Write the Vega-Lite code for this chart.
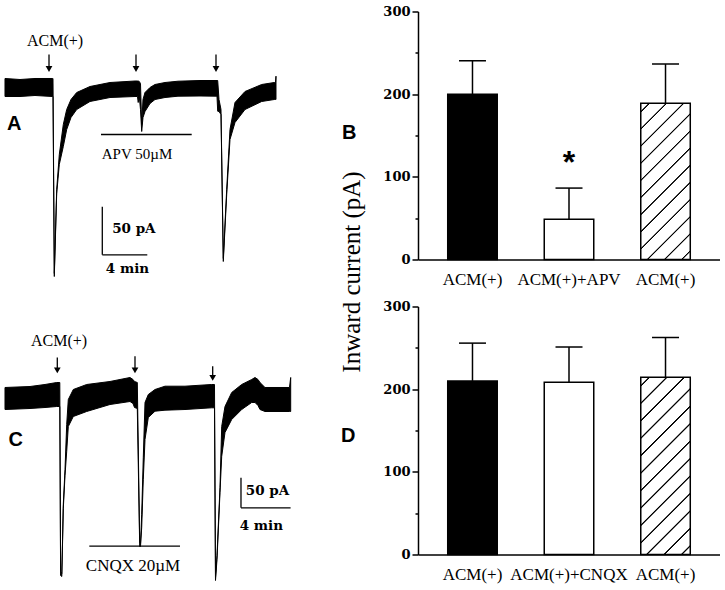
{
"$schema":"https://vega.github.io/schema/vega-lite/v6.json",
"background":"white",
"padding":{"left":0,"top":5.5,"right":0,"bottom":0},
"config":{"view":{"stroke":null,"fill":"white"},"axis":{"labelColor":"black","titleColor":"black","domainColor":"black","tickColor":"black","grid":false}},
"datasets":{
"traceA":[
{"t":0.444,"v":9.38,"v2":-9.38},{"t":1.778,"v":8.33,"v2":-9.38},{"t":3.111,"v":9.38,"v2":-8.33},{"t":4.667,"v":9.38,"v2":-9.38},{"t":4.711,"v":9.38,"v2":-9.38},
{"t":4.827,"v":-193.75,"v2":-196.88},{"t":5.04,"v":-106.25,"v2":-110.42},{"t":5.271,"v":-69.79,"v2":-80.21},{"t":5.627,"v":-38.54,"v2":-61.46},{"t":5.929,"v":-22.92,"v2":-43.75},
{"t":6.311,"v":-12.5,"v2":-31.25},{"t":6.818,"v":-5.21,"v2":-22.92},{"t":8.0,"v":1.04,"v2":-14.58},{"t":9.778,"v":5.21,"v2":-10.42},{"t":12.0,"v":6.77,"v2":-9.38},
{"t":12.222,"v":6.77,"v2":-9.38},{"t":12.284,"v":6.77,"v2":-15.63},{"t":12.382,"v":6.25,"v2":-9.38},{"t":12.489,"v":4.17,"v2":-22.92},{"t":12.596,"v":-38.54,"v2":-45.83},
{"t":12.711,"v":-12.5,"v2":-31.25},{"t":12.889,"v":-5.21,"v2":-25.0},{"t":13.333,"v":0,"v2":-16.67},{"t":13.778,"v":3.13,"v2":-12.5},{"t":14.667,"v":5.21,"v2":-10.42},
{"t":15.822,"v":6.56,"v2":-9.06},{"t":17.778,"v":7.29,"v2":-8.85},{"t":19.289,"v":7.29,"v2":-9.06},{"t":19.351,"v":7.29,"v2":-24.69},{"t":19.467,"v":-12.5,"v2":-25.0},
{"t":19.644,"v":-22.92,"v2":-28.13},{"t":19.849,"v":-178.13,"v2":-181.25},{"t":20.151,"v":-106.25,"v2":-111.46},{"t":20.444,"v":-43.75,"v2":-54.17},{"t":20.889,"v":-15.63,"v2":-36.46},
{"t":21.778,"v":-4.17,"v2":-22.92},{"t":23.262,"v":3.13,"v2":-14.58},{"t":24.382,"v":5.21,"v2":-12.5},{"t":24.489,"v":5.21,"v2":-12.5},{"t":24.533,"v":11.77,"v2":-12.5}
],
"traceC":[
{"t":0.403,"v":16.67,"v2":-20.0},{"t":2.419,"v":18.33,"v2":-18.33},{"t":3.629,"v":21.67,"v2":-16.67},{"t":4.573,"v":25.0,"v2":-15.0},{"t":4.823,"v":25.0,"v2":-15.0},
{"t":4.887,"v":-290.0,"v2":-296.67},{"t":4.984,"v":-293.33,"v2":-298.33},{"t":5.105,"v":-178.33,"v2":-185.0},{"t":5.242,"v":-120.0,"v2":-130.0},{"t":5.379,"v":-45.0,"v2":-90.0},
{"t":5.508,"v":-3.33,"v2":-48.33},{"t":5.911,"v":13.33,"v2":-31.67},{"t":6.992,"v":21.67,"v2":-23.33},{"t":8.871,"v":26.67,"v2":-11.67},{"t":10.484,"v":33.33,"v2":-6.67},
{"t":10.726,"v":30.0,"v2":-10.0},{"t":10.847,"v":26.67,"v2":-16.67},{"t":11.073,"v":25.0,"v2":-18.33},{"t":11.266,"v":-241.67,"v2":-248.33},{"t":11.331,"v":-243.33,"v2":-248.33},
{"t":11.427,"v":-195.0,"v2":-216.67},{"t":11.556,"v":-100.0,"v2":-136.67},{"t":11.694,"v":-8.33,"v2":-70.0},{"t":11.96,"v":5.0,"v2":-33.33},{"t":12.5,"v":13.33,"v2":-22.83},
{"t":13.306,"v":18.83,"v2":-21.17},{"t":14.919,"v":18.83,"v2":-20.0},{"t":17.073,"v":21.67,"v2":-17.17},{"t":17.298,"v":21.67,"v2":-17.17},{"t":17.379,"v":-300.0,"v2":-305.0},
{"t":17.5,"v":-263.33,"v2":-270.0},{"t":17.742,"v":-150.0,"v2":-158.33},{"t":17.879,"v":-48.33,"v2":-98.33},{"t":18.145,"v":-15.0,"v2":-58.33},{"t":18.685,"v":8.33,"v2":-36.67},
{"t":19.492,"v":21.67,"v2":-20.0},{"t":20.298,"v":30.0,"v2":-8.33},{"t":20.565,"v":33.33,"v2":-8.33},{"t":20.806,"v":30.0,"v2":-13.33},{"t":20.968,"v":25.0,"v2":-20.0},
{"t":21.371,"v":16.67,"v2":-23.33},{"t":23.347,"v":16.67,"v2":-23.33},{"t":23.444,"v":33.33,"v2":-23.33}
],
"linesA":[
{"t":8.978,"v":-48.96,"t2":17.04,"v2":-48.96},
{"t":9.093,"v":-124.27,"t2":9.093,"v2":-174.27},
{"t":9.093,"v":-174.27,"t2":13.093,"v2":-174.27}
],
"linesC":[
{"t":7.202,"v":-247.83,"t2":14.516,"v2":-247.83},
{"t":19.435,"v":-133.83,"t2":19.435,"v2":-183.83},
{"t":19.435,"v":-183.83,"t2":23.435,"v2":-183.83}
],
"arrowsA":[
{"t":4.356,"v":34.38,"v2":19.3},{"t":12.089,"v":34.38,"v2":19.3},{"t":19.2,"v":34.38,"v2":19.3}
],
"arrowsC":[
{"t":4.621,"v":66.67,"v2":45.3},{"t":10.887,"v":68.83,"v2":45.3},{"t":17.153,"v":52.17,"v2":32.8}
],
"barsB":[
{"condition":"ACM(+) control","mean":200,"upper":240.4},
{"condition":"ACM(+)+APV","mean":48.7,"upper":86.4},
{"condition":"ACM(+) washout","mean":189,"upper":236.4}
],
"barsD":[
{"condition":"ACM(+) control","mean":210,"upper":255.7},
{"condition":"ACM(+)+CNQX","mean":208.5,"upper":251},
{"condition":"ACM(+) washout","mean":214.5,"upper":262.5}
]
},
"bounds":"flush",
"align":"each",
"columns":2,
"spacing":{"row":22,"column":118},
"concat":[
{
"width":300,"height":273,
"encoding":{
"x":{"field":"t","type":"quantitative","scale":{"domain":[0,26.667],"nice":false,"zero":false},"axis":null},
"y":{"field":"v","type":"quantitative","scale":{"domain":[-205.21,79.17],"nice":false,"zero":false},"axis":null}
},
"layer":[
{"data":{"name":"traceA"},"mark":{"type":"area","fill":"black","stroke":"black","strokeWidth":1},"encoding":{"y2":{"field":"v2"}}},
{"data":{"name":"linesA"},"mark":{"type":"rule","color":"black","strokeWidth":1.3},"encoding":{"x2":{"field":"t2"},"y2":{"field":"v2"}}},
{"data":{"name":"arrowsA"},"mark":{"type":"rule","color":"black","strokeWidth":1.3},"encoding":{"y2":{"field":"v2"}}},
{"data":{"name":"arrowsA"},"mark":{"type":"point","shape":"triangle-down","filled":true,"color":"black","size":45,"opacity":1},"encoding":{"y":{"field":"v2","type":"quantitative"}}},
{"data":{"values":[{"t":4.889,"v":48.96,"label":"ACM(+)"}]},"mark":{"type":"text","font":"Liberation Serif","fontSize":16,"color":"black","align":"center","baseline":"middle"},"encoding":{"text":{"field":"label","type":"nominal"}}},
{"data":{"values":[{"t":12.178,"v":-69.79,"label":"APV 50µM"}]},"mark":{"type":"text","font":"Liberation Serif","fontSize":15,"color":"black","align":"center","baseline":"middle"},"encoding":{"text":{"field":"label","type":"nominal"}}},
{"data":{"values":[{"t":11.898,"v":-147.9,"label":"50 pA"},{"t":11.33,"v":-188.9,"label":"4 min"}]},"mark":{"type":"text","font":"DejaVu Serif","fontSize":13.5,"fontWeight":"bold","color":"black","align":"center","baseline":"middle"},"encoding":{"text":{"field":"label","type":"nominal"}}},
{"data":{"values":[{"t":1.27,"v":-38.5,"label":"A"}]},"mark":{"type":"text","font":"Liberation Sans","fontSize":20,"fontWeight":"bold","color":"black","align":"center","baseline":"middle"},"encoding":{"text":{"field":"label","type":"nominal"}}}
]
},
{
"width":302,"height":248,
"title":{"text":"B","anchor":"start","frame":"group","offset":0,"baseline":"middle","align":"left","dx":-76,"dy":147,"font":"Liberation Sans","fontSize":20,"fontWeight":"bold","color":"black"},
"data":{"name":"barsB"},
"encoding":{
"x":{"field":"condition","type":"nominal","scale":{"type":"band","domain":["ACM(+) control","ACM(+)+APV","ACM(+) washout"],"paddingInner":0.487,"paddingOuter":0.308},"axis":{"title":null,"labelAngle":0,"labelExpr":"split(datum.label, ' ')[0]","ticks":false,"tickSize":0,"labelPadding":12,"labelFont":"Liberation Serif","labelFontSize":17,"labelFontWeight":"normal","domainWidth":1.5,"labelOverlap":false}},
"y":{"field":"mean","type":"quantitative","scale":{"domain":[0,300],"nice":false},"axis":{"title":"Inward current (pA)","values":[0,50,100,150,200,250,300],"labelExpr":"datum.value % 100 === 0 ? datum.label : ''","tickSize":{"condition":{"test":"datum.value % 100 !== 0","value":3},"value":6},"tickWidth":1.5,"domainWidth":1.5,"labelFont":"DejaVu Serif","labelFontSize":13,"labelFontWeight":"bold","labelPadding":2,"titleFont":"Liberation Serif","titleFontSize":25,"titleFontWeight":"normal","titleAngle":-90,"titleAlign":"center","titleBaseline":"middle","titleX":-67,"titleY":260}}
},
"layer":[
{"transform":[{"filter":"datum.condition !== 'ACM(+) washout'"}],"mark":{"type":"bar","stroke":"black","strokeWidth":1.5},"encoding":{"fill":{"condition":{"test":"datum.condition === 'ACM(+)+APV'","value":"white"},"value":"black"}}},
{"transform":[{"filter":"datum.condition === 'ACM(+) washout'"}],"mark":{"type":"bar","stroke":"black","strokeWidth":1.5,"fill":{"gradient":"linear","x1":0,"y1":0,"x2":0.3788,"y2":1.1967,"stops":[
{"offset":0,"color":"white"},
{"offset":0.0357,"color":"white"},{"offset":0.0397,"color":"black"},{"offset":0.0437,"color":"black"},{"offset":0.0477,"color":"white"},
{"offset":0.119,"color":"white"},{"offset":0.123,"color":"black"},{"offset":0.127,"color":"black"},{"offset":0.131,"color":"white"},
{"offset":0.2023,"color":"white"},{"offset":0.2063,"color":"black"},{"offset":0.2103,"color":"black"},{"offset":0.2143,"color":"white"},
{"offset":0.2857,"color":"white"},{"offset":0.2897,"color":"black"},{"offset":0.2937,"color":"black"},{"offset":0.2977,"color":"white"},
{"offset":0.369,"color":"white"},{"offset":0.373,"color":"black"},{"offset":0.377,"color":"black"},{"offset":0.381,"color":"white"},
{"offset":0.4523,"color":"white"},{"offset":0.4563,"color":"black"},{"offset":0.4603,"color":"black"},{"offset":0.4643,"color":"white"},
{"offset":0.5357,"color":"white"},{"offset":0.5397,"color":"black"},{"offset":0.5437,"color":"black"},{"offset":0.5477,"color":"white"},
{"offset":0.619,"color":"white"},{"offset":0.623,"color":"black"},{"offset":0.627,"color":"black"},{"offset":0.631,"color":"white"},
{"offset":0.7023,"color":"white"},{"offset":0.7063,"color":"black"},{"offset":0.7103,"color":"black"},{"offset":0.7143,"color":"white"},
{"offset":0.7857,"color":"white"},{"offset":0.7897,"color":"black"},{"offset":0.7937,"color":"black"},{"offset":0.7977,"color":"white"},
{"offset":0.869,"color":"white"},{"offset":0.873,"color":"black"},{"offset":0.877,"color":"black"},{"offset":0.881,"color":"white"},
{"offset":0.9523,"color":"white"},{"offset":0.9563,"color":"black"},{"offset":0.9603,"color":"black"},{"offset":0.9643,"color":"white"},
{"offset":1,"color":"white"}]}}},
{"mark":{"type":"rule","color":"black","strokeWidth":1.5},"encoding":{"y2":{"field":"upper"}}},
{"mark":{"type":"tick","color":"black","thickness":1.5,"size":27,"orient":"horizontal","opacity":1},"encoding":{"y":{"field":"upper","type":"quantitative"}}},
{"data":{"values":[{"condition":"ACM(+)+APV","value":105}]},"mark":{"type":"text","text":"*","font":"Liberation Sans","fontSize":32,"fontWeight":"bold","baseline":"alphabetic","align":"center","color":"black"},"encoding":{"y":{"field":"value","type":"quantitative"}}}
]
},
{
"width":300,"height":283,
"encoding":{
"x":{"field":"t","type":"quantitative","scale":{"domain":[0,24.194],"nice":false,"zero":false},"axis":null},
"y":{"field":"v","type":"quantitative","scale":{"domain":[-320,151.67],"nice":false,"zero":false},"axis":null}
},
"layer":[
{"data":{"name":"traceC"},"mark":{"type":"area","fill":"black","stroke":"black","strokeWidth":1},"encoding":{"y2":{"field":"v2"}}},
{"data":{"name":"linesC"},"mark":{"type":"rule","color":"black","strokeWidth":1.3},"encoding":{"x2":{"field":"t2"},"y2":{"field":"v2"}}},
{"data":{"name":"arrowsC"},"mark":{"type":"rule","color":"black","strokeWidth":1.3},"encoding":{"y2":{"field":"v2"}}},
{"data":{"name":"arrowsC"},"mark":{"type":"point","shape":"triangle-down","filled":true,"color":"black","size":45,"opacity":1},"encoding":{"y":{"field":"v2","type":"quantitative"}}},
{"data":{"values":[{"t":4.758,"v":93.83,"label":"ACM(+)"}]},"mark":{"type":"text","font":"Liberation Serif","fontSize":16,"color":"black","align":"center","baseline":"middle"},"encoding":{"text":{"field":"label","type":"nominal"}}},
{"data":{"values":[{"t":10.726,"v":-281.17,"label":"CNQX 20µM"}]},"mark":{"type":"text","font":"Liberation Serif","fontSize":17,"color":"black","align":"center","baseline":"middle"},"encoding":{"text":{"field":"label","type":"nominal"}}},
{"data":{"values":[{"t":21.573,"v":-156.17,"label":"50 pA"},{"t":21.077,"v":-214.5,"label":"4 min"}]},"mark":{"type":"text","font":"DejaVu Serif","fontSize":13.5,"fontWeight":"bold","color":"black","align":"center","baseline":"middle"},"encoding":{"text":{"field":"label","type":"nominal"}}},
{"data":{"values":[{"t":1.274,"v":-71.3,"label":"C"}]},"mark":{"type":"text","font":"Liberation Sans","fontSize":20,"fontWeight":"bold","color":"black","align":"center","baseline":"middle"},"encoding":{"text":{"field":"label","type":"nominal"}}}
]
},
{
"width":302,"height":248,
"title":{"text":"D","anchor":"start","frame":"group","offset":0,"baseline":"middle","align":"left","dx":-77,"dy":155,"font":"Liberation Sans","fontSize":20,"fontWeight":"bold","color":"black"},
"data":{"name":"barsD"},
"encoding":{
"x":{"field":"condition","type":"nominal","scale":{"type":"band","domain":["ACM(+) control","ACM(+)+CNQX","ACM(+) washout"],"paddingInner":0.487,"paddingOuter":0.308},"axis":{"title":null,"labelAngle":0,"labelExpr":"split(datum.label, ' ')[0]","ticks":false,"tickSize":0,"labelPadding":12,"labelFont":"Liberation Serif","labelFontSize":17,"labelFontWeight":"normal","domainWidth":1.5,"labelOverlap":false}},
"y":{"field":"mean","type":"quantitative","scale":{"domain":[0,300],"nice":false},"axis":{"title":null,"values":[0,50,100,150,200,250,300],"labelExpr":"datum.value % 100 === 0 ? datum.label : ''","tickSize":{"condition":{"test":"datum.value % 100 !== 0","value":3},"value":6},"tickWidth":1.5,"domainWidth":1.5,"labelFont":"DejaVu Serif","labelFontSize":13,"labelFontWeight":"bold","labelPadding":2}}
},
"layer":[
{"transform":[{"filter":"datum.condition !== 'ACM(+) washout'"}],"mark":{"type":"bar","stroke":"black","strokeWidth":1.5},"encoding":{"fill":{"condition":{"test":"datum.condition === 'ACM(+)+CNQX'","value":"white"},"value":"black"}}},
{"transform":[{"filter":"datum.condition === 'ACM(+) washout'"}],"mark":{"type":"bar","stroke":"black","strokeWidth":1.5,"fill":{"gradient":"linear","x1":0,"y1":0,"x2":0.3313,"y2":1.1867,"stops":[
{"offset":0,"color":"white"},
{"offset":0.0325,"color":"white"},{"offset":0.0365,"color":"black"},{"offset":0.0405,"color":"black"},{"offset":0.0445,"color":"white"},
{"offset":0.1094,"color":"white"},{"offset":0.1134,"color":"black"},{"offset":0.1174,"color":"black"},{"offset":0.1214,"color":"white"},
{"offset":0.1863,"color":"white"},{"offset":0.1903,"color":"black"},{"offset":0.1943,"color":"black"},{"offset":0.1983,"color":"white"},
{"offset":0.2632,"color":"white"},{"offset":0.2672,"color":"black"},{"offset":0.2712,"color":"black"},{"offset":0.2752,"color":"white"},
{"offset":0.3402,"color":"white"},{"offset":0.3442,"color":"black"},{"offset":0.3482,"color":"black"},{"offset":0.3522,"color":"white"},
{"offset":0.4171,"color":"white"},{"offset":0.4211,"color":"black"},{"offset":0.4251,"color":"black"},{"offset":0.4291,"color":"white"},
{"offset":0.494,"color":"white"},{"offset":0.498,"color":"black"},{"offset":0.502,"color":"black"},{"offset":0.506,"color":"white"},
{"offset":0.5709,"color":"white"},{"offset":0.5749,"color":"black"},{"offset":0.5789,"color":"black"},{"offset":0.5829,"color":"white"},
{"offset":0.6478,"color":"white"},{"offset":0.6518,"color":"black"},{"offset":0.6558,"color":"black"},{"offset":0.6598,"color":"white"},
{"offset":0.7248,"color":"white"},{"offset":0.7288,"color":"black"},{"offset":0.7328,"color":"black"},{"offset":0.7368,"color":"white"},
{"offset":0.8017,"color":"white"},{"offset":0.8057,"color":"black"},{"offset":0.8097,"color":"black"},{"offset":0.8137,"color":"white"},
{"offset":0.8786,"color":"white"},{"offset":0.8826,"color":"black"},{"offset":0.8866,"color":"black"},{"offset":0.8906,"color":"white"},
{"offset":0.9555,"color":"white"},{"offset":0.9595,"color":"black"},{"offset":0.9635,"color":"black"},{"offset":0.9675,"color":"white"},
{"offset":1,"color":"white"}]}}},
{"mark":{"type":"rule","color":"black","strokeWidth":1.5},"encoding":{"y2":{"field":"upper"}}},
{"mark":{"type":"tick","color":"black","thickness":1.5,"size":27,"orient":"horizontal","opacity":1},"encoding":{"y":{"field":"upper","type":"quantitative"}}}
]
}
]
}
